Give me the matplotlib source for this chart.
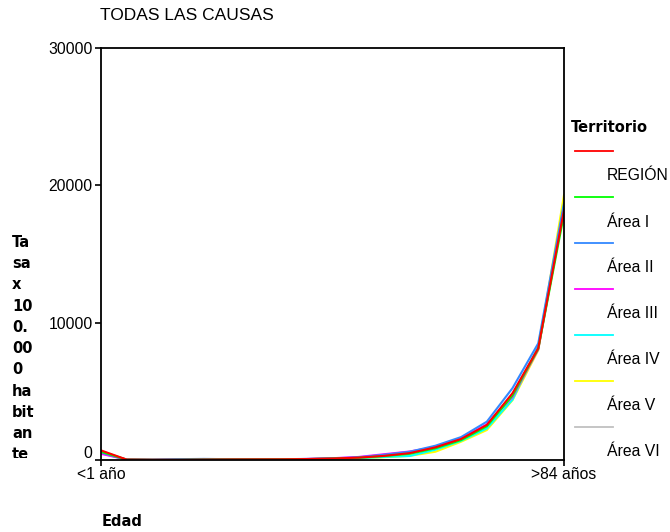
import matplotlib
matplotlib.use("Agg")
import matplotlib.pyplot as plt
import matplotlib.transforms as mtransforms
from matplotlib.lines import Line2D
from matplotlib.patches import Rectangle

plt.rcParams['font.family'] = ['Liberation Sans', 'DejaVu Sans']

# age groups
edades = ['<1 año', '1-4', '5-9', '10-14', '15-19', '20-24', '25-29', '30-34',
          '35-39', '40-44', '45-49', '50-54', '55-59', '60-64', '65-69',
          '70-74', '75-79', '80-84', '>84 años']

territorios = ['REGIÓN', 'Área I', 'Área II', 'Área III', 'Área IV', 'Área V', 'Área VI']
colores = ['#ff0000', '#00ff00', '#3388ff', '#ff00ff', '#00ffff', '#ffff00', '#c0c0c0']

region = [700, 30, 15, 15, 30, 40, 45, 50, 70, 110, 170, 300, 500, 920, 1530, 2550, 4870, 8150, 18200]
area_1 = [600, 25, 12, 14, 28, 38, 42, 48, 65, 100, 160, 280, 450, 850, 1450, 2450, 4700, 8100, 17900]
area_2 = [550, 28, 20, 60, 80, 60, 50, 55, 80, 120, 190, 380, 600, 1040, 1670, 2790, 5240, 8500, 18700]
area_3 = [450, 30, 18, 50, 70, 55, 48, 52, 75, 130, 220, 420, 620, 950, 1550, 2600, 4600, 8050, 18400]
area_4 = [500, 22, 10, 12, 25, 35, 40, 45, 60, 90, 140, 220, 290, 750, 1400, 2300, 4400, 8300, 18500]
area_5 = [520, 24, 11, 13, 26, 36, 41, 46, 62, 95, 140, 200, 300, 600, 1330, 2180, 4360, 8000, 19300]
area_6 = [650, 28, 14, 15, 30, 40, 44, 50, 68, 105, 165, 290, 480, 900, 1500, 2500, 4800, 8100, 18300]
series = [region, area_1, area_2, area_3, area_4, area_5, area_6]

fig = plt.figure(figsize=(6.7, 5.32), dpi=100)
ax = fig.add_axes([101 / 670, 72 / 532, 463 / 670, 412 / 532])

x = list(range(len(edades)))
# draw last series first so REGIÓN ends up on top
for vals, col in reversed(list(zip(series, colores))):
    ax.plot(x, vals, color=col, lw=1.5, solid_joinstyle='miter')

ax.set_xlim(0, len(edades) - 1)
ax.set_ylim(0, 30000)
ax.set_yticks([0, 10000, 20000, 30000])
ax.set_yticklabels(['0', '10000', '20000', '30000'])
ax.set_xticks([0, len(edades) - 1])
ax.set_xticklabels([edades[0], edades[-1]])
for s in ax.spines.values():
    s.set_linewidth(1.3)
ax.tick_params(axis='both', labelsize=11.3, length=4, width=1.2, color='black', pad=2)
ax.tick_params(axis='x', pad=1)
# the zero label sits a bit above its tick
lab0 = ax.get_yticklabels()[0]
lab0.set_transform(lab0.get_transform() + mtransforms.ScaledTranslation(0, 8 / 100, fig.dpi_scale_trans))

fig.text(100 / 670, 1 - 16 / 532, 'TODAS LAS CAUSAS', fontsize=12.5, va='center', ha='left')

bold = dict(family='DejaVu Sans', fontweight='bold', fontsize=10.5)

# y label, wrapped as in the original and clipped at the bottom
ylab = fig.text(12 / 670, 1 - 235 / 532, 'Ta\nsa\nx\n10\n0.\n00\n0\nha\nbit\nan\nte',
                va='top', ha='left', linespacing=1.52, **bold)
clip = Rectangle((0, 1 - 458 / 532), 0.2, 0.6, transform=fig.transFigure)
ylab.set_clip_path(clip)
ylab.set_clip_on(True)

fig.text(102 / 670, 1 - 521 / 532, 'Edad', va='center', ha='left', **bold)

# legend: line above, label below
fig.text(571 / 670, 1 - 127 / 532, 'Territorio', va='center', ha='left', **bold)
for k, (nombre, col) in enumerate(zip(territorios, colores)):
    yl = 151 + 46 * k
    fig.add_artist(Line2D([575 / 670, 613 / 670], [1 - yl / 532, 1 - yl / 532],
                          color=col, lw=1.3, transform=fig.transFigure))
    fig.text(607 / 670, 1 - (yl + 25) / 532, nombre, fontsize=11.3, va='center', ha='left')

fig.savefig('out.png', dpi=100)
